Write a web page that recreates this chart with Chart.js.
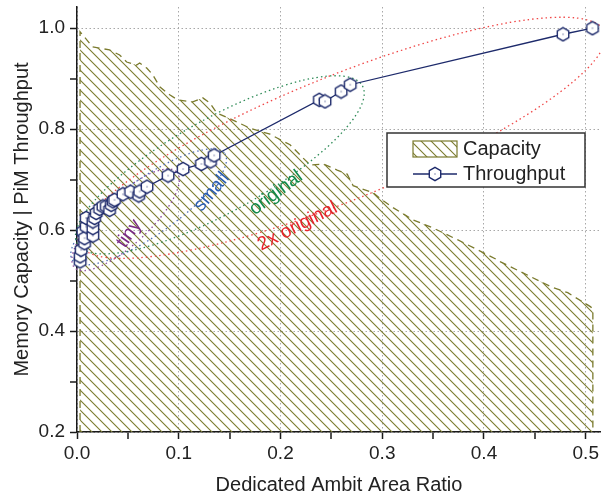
<!DOCTYPE html>
<html>
<head>
<meta charset="utf-8">
<script src="https://cdn.jsdelivr.net/npm/chart.js@4/dist/chart.umd.min.js"></script>
<style>
  body { margin: 0; background: #fff; }
</style>
</head>
<body>
<canvas id="myChart" width="601" height="497"></canvas>
<script>
// Capacity area outline (left edge, top edge, right edge)
const capX = [0.003, 0.003, 0.0153, 0.032, 0.0419, 0.0488, 0.0586, 0.0616, 0.0685, 0.0744, 0.0813,
  0.0911, 0.099, 0.1138, 0.1236, 0.1305, 0.1374, 0.1532, 0.17, 0.1897, 0.2094, 0.229, 0.2419,
  0.2557, 0.2655, 0.2714, 0.291, 0.301, 0.311, 0.3305, 0.3502, 0.3739, 0.3936, 0.4133, 0.4163,
  0.4557, 0.4655, 0.4823, 0.5049, 0.507, 0.507];
const capY = [0.2, 0.993, 0.963, 0.957, 0.947, 0.933, 0.927, 0.931, 0.921, 0.908, 0.884,
  0.868, 0.858, 0.854, 0.862, 0.852, 0.832, 0.818, 0.802, 0.79, 0.769, 0.729, 0.731,
  0.719, 0.711, 0.688, 0.674, 0.658, 0.644, 0.62, 0.604, 0.581, 0.561, 0.541, 0.537,
  0.498, 0.488, 0.476, 0.448, 0.442, 0.2];

// PiM throughput points
const tputX = [0.0031, 0.0031, 0.0041, 0.0057, 0.0074, 0.0074, 0.009, 0.009, 0.0156, 0.0156,
  0.0156, 0.0172, 0.0189, 0.0222, 0.0254, 0.0288, 0.032, 0.0337, 0.0353, 0.0369, 0.0451,
  0.0527, 0.0606, 0.0616, 0.0688, 0.0895, 0.1043, 0.1223, 0.1312, 0.1348, 0.2382, 0.2438,
  0.2596, 0.2685, 0.4777, 0.5066];
const tputY = [0.538, 0.548, 0.561, 0.597, 0.574, 0.584, 0.607, 0.624, 0.589, 0.604,
  0.617, 0.624, 0.634, 0.642, 0.647, 0.647, 0.64, 0.65, 0.657, 0.66, 0.671,
  0.676, 0.6685, 0.6765, 0.686, 0.708, 0.721, 0.731, 0.736, 0.748, 0.858, 0.855,
  0.8745, 0.888, 0.988, 1.0];

const seriesNames = ["Capacity", "Throughput"];

// ellipse groups: name, centre (data units)
const groupNames = ["tiny", "small", "original", "2x original"];
const groupCx = [0.0478, 0.0704, 0.1404, 0.2606];
const groupCy = [0.6204, 0.646, 0.7293, 0.7828];
const labelX = [0.0512, 0.1325, 0.1956, 0.2167];
const labelY = [0.593, 0.6756, 0.6735, 0.6075];

// styles of the ellipses and their labels
const groupStyle = [
  { rx: 70, ry: 24, angle: 43, line: "#8b4a9c", text: "#7a2a86", rot: 55 },
  { rx: 93, ry: 28, angle: 35, line: "#4f6fb5", text: "#2a5db0", rot: 50 },
  { rx: 163, ry: 47, angle: 29, line: "#2e8b57", text: "#128a4a", rot: 37 },
  { rx: 283, ry: 62, angle: 22, line: "#f04848", text: "#e8242c", rot: 27 },
];

const OLIVE = "#7b7b2e";
const NAVY = "#1d2a6b";
const FONT = "'Liberation Sans', Arial, sans-serif";

const canvas = document.getElementById("myChart");
const mainCtx = canvas.getContext("2d");

const makeHatch = () => {
  const tile = document.createElement("canvas");
  tile.width = 10;
  tile.height = 10;
  const g = tile.getContext("2d");
  g.strokeStyle = OLIVE;
  g.lineWidth = 1.1;
  g.beginPath();
  g.moveTo(-5, -5); g.lineTo(15, 15);
  g.moveTo(-5, 5); g.lineTo(5, 15);
  g.moveTo(5, -5); g.lineTo(15, 5);
  g.stroke();
  return mainCtx.createPattern(tile, "repeat");
};

const makeHex = () => {
  const c = document.createElement("canvas");
  c.width = 16;
  c.height = 16;
  const g = c.getContext("2d");
  g.beginPath();
  for (let k = 0; k < 6; k++) {
    const a = -Math.PI / 2 + (k * Math.PI) / 3;
    const px = 8 + 6.6 * Math.cos(a);
    const py = 8 + 6.6 * Math.sin(a);
    if (k === 0) g.moveTo(px, py); else g.lineTo(px, py);
  }
  g.closePath();
  g.fillStyle = "#fff";
  g.fill();
  g.strokeStyle = NAVY;
  g.lineWidth = 1.4;
  g.stroke();
  g.fillStyle = NAVY;
  g.fillRect(7.5, 7.5, 1, 1);
  return c;
};

const hatch = makeHatch();
const hex = makeHex();

const isMajor = (v, step) => Math.abs(Math.round(v * 100) % Math.round(step * 100)) === 0;

// ellipses + rotated labels, drawn over the capacity area
const notesPlugin = {
  id: "notes",
  afterDatasetDraw(chart, args) {
    if (args.index !== 1) return;
    const { ctx, scales: { x, y } } = chart;
    ctx.save();
    groupNames.forEach((name, i) => {
      const st = groupStyle[i];
      const cx = x.getPixelForValue(groupCx[i]);
      const cy = y.getPixelForValue(groupCy[i]);
      ctx.beginPath();
      ctx.setLineDash([1.5, 3]);
      ctx.lineWidth = 1.3;
      ctx.strokeStyle = st.line;
      ctx.ellipse(cx, cy, st.rx, st.ry, (-st.angle * Math.PI) / 180, 0, Math.PI * 2);
      ctx.stroke();

      ctx.save();
      ctx.translate(x.getPixelForValue(labelX[i]), y.getPixelForValue(labelY[i]));
      ctx.rotate((-st.rot * Math.PI) / 180);
      ctx.font = `19px ${FONT}`;
      ctx.fillStyle = st.text;
      ctx.textAlign = "center";
      ctx.textBaseline = "middle";
      ctx.fillText(name, 0, 0);
      ctx.restore();
    });
    ctx.restore();
  },
};

// boxed legend in the upper right of the plot
const legendPlugin = {
  id: "boxLegend",
  afterDraw(chart) {
    const { ctx, chartArea } = chart;
    const left = chartArea.right - 214;
    const top = chartArea.top + 126;
    const w = 198;
    const h = 54;
    ctx.save();
    ctx.setLineDash([]);
    ctx.fillStyle = "#fff";
    ctx.fillRect(left, top, w, h);
    ctx.strokeStyle = "#333";
    ctx.lineWidth = 1.5;
    ctx.strokeRect(left, top, w, h);

    // capacity swatch
    ctx.fillStyle = hatch;
    ctx.fillRect(left + 26, top + 8, 44, 16);
    ctx.strokeStyle = OLIVE;
    ctx.lineWidth = 1.2;
    ctx.strokeRect(left + 26, top + 8, 44, 16);

    // throughput swatch
    ctx.strokeStyle = NAVY;
    ctx.lineWidth = 1.3;
    ctx.beginPath();
    ctx.moveTo(left + 26, top + 41);
    ctx.lineTo(left + 70, top + 41);
    ctx.stroke();
    ctx.drawImage(hex, left + 48 - 8, top + 41 - 8);

    ctx.fillStyle = "#222";
    ctx.font = `20px ${FONT}`;
    ctx.textBaseline = "middle";
    ctx.fillText(seriesNames[0], left + 76, top + 16);
    ctx.fillText(seriesNames[1], left + 76, top + 41);
    ctx.restore();
  },
};

const tickFont = { family: FONT, size: 19 };
const titleFont = { family: FONT, size: 20 };

const config = {
  type: "scatter",
  data: {
    datasets: [
      {
        label: seriesNames[1],
        data: tputX.map((v, i) => ({ x: v, y: tputY[i] })),
        showLine: true,
        borderColor: NAVY,
        borderWidth: 1.3,
        pointStyle: hex,
        pointRadius: 7,
        tension: 0,
        clip: false,
      },
      {
        label: seriesNames[0],
        data: capX.map((v, i) => ({ x: v, y: capY[i] })),
        showLine: true,
        borderColor: OLIVE,
        borderWidth: 1.3,
        borderDash: [7, 5],
        backgroundColor: hatch,
        fill: "start",
        pointRadius: 0,
        tension: 0,
      },
    ],
  },
  options: {
    responsive: false,
    animation: false,
    devicePixelRatio: 1,
    layout: { autoPadding: false, padding: { top: 7, right: 0, left: 0, bottom: 0 } },
    plugins: {
      legend: { display: false },
      tooltip: { enabled: false },
    },
    scales: {
      x: {
        type: "linear",
        min: 0,
        max: 0.515,
        afterFit: (s) => {
          s.height = 65;
          s.paddingLeft = 0;
          s.paddingRight = 0;
        },
        border: { color: "#1a1a1a", width: 1.5, dash: [1.5, 2.5] },
        grid: {
          color: (c) => (isMajor(c.tick.value, 0.1) ? "#a8a8a8" : "rgba(0,0,0,0)"),
          lineWidth: (c) => (isMajor(c.tick.value, 0.1) ? 1 : 0),
          tickColor: "#1a1a1a",
          tickWidth: 1.5,
          tickLength: 7,
        },
        ticks: {
          stepSize: 0.05,
          includeBounds: false,
          autoSkip: false,
          maxRotation: 0,
          padding: 3,
          color: "#222",
          font: tickFont,
          callback: (v) => (isMajor(v, 0.1) ? v.toFixed(1) : ""),
        },
        title: {
          display: true,
          text: "Dedicated Ambit Area Ratio",
          color: "#222",
          font: titleFont,
          padding: { top: 0, bottom: 0 },
        },
      },
      y: {
        type: "linear",
        min: 0.2,
        max: 1.042,
        afterFit: (s) => {
          s.width = 77;
          s.paddingTop = 0;
          s.paddingBottom = 0;
        },
        border: { color: "#1a1a1a", width: 1.5, dash: [1.5, 2.5] },
        grid: {
          color: (c) => (isMajor(c.tick.value, 0.2) ? "#a8a8a8" : "rgba(0,0,0,0)"),
          lineWidth: (c) => (isMajor(c.tick.value, 0.2) ? 1 : 0),
          tickColor: "#1a1a1a",
          tickWidth: 1.5,
          tickLength: 7,
        },
        ticks: {
          stepSize: 0.1,
          includeBounds: false,
          autoSkip: false,
          padding: 5,
          color: "#222",
          font: tickFont,
          callback: (v) => (isMajor(v, 0.2) ? v.toFixed(1) : ""),
        },
        title: {
          display: true,
          text: "Memory Capacity | PiM Throughput",
          color: "#222",
          font: titleFont,
          padding: { top: 10, bottom: 0 },
        },
      },
    },
  },
  plugins: [notesPlugin, legendPlugin],
};

const myChartInstance = new Chart(canvas, config);
</script>
</body>
</html>
